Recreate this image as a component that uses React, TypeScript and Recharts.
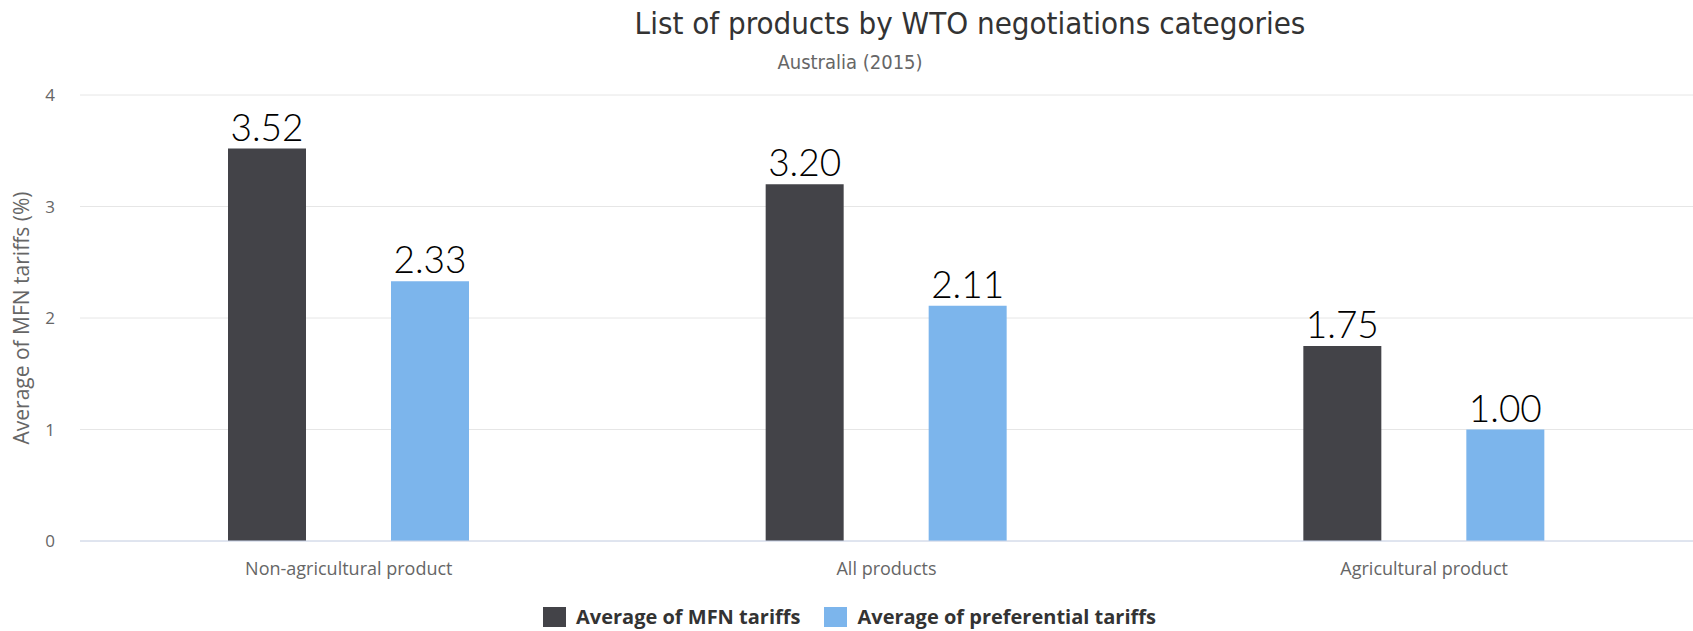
import {
  BarChart,
  Bar,
  XAxis,
  YAxis,
  CartesianGrid,
  LabelList,
} from "recharts";

const categories = ["Non-agricultural product", "All products", "Agricultural product"];
const mfnTariffs = [3.52, 3.2, 1.75];
const preferentialTariffs = [2.33, 2.11, 1.0];
const yTicks = [0, 1, 2, 3, 4];
// band edges for the little separator ticks under the x axis
const bandEdges = [0, 1, 2, 3];

const MFN_COLOR = "#434348";
const PREF_COLOR = "#7cb5ec";
const FONT = "'Open Sans', 'DejaVu Sans', sans-serif";
const NARROW = "'Liberation Sans Narrow', 'DejaVu Sans Condensed', sans-serif";

const data = categories.map((name, i) => ({
  name,
  mfn: mfnTariffs[i],
  pref: preferentialTariffs[i],
}));

const legendItems = [
  { label: "Average of MFN tariffs", color: MFN_COLOR },
  { label: "Average of preferential tariffs", color: PREF_COLOR },
];

const fmt = (v: number) => v.toFixed(2);

export default function App() {
  return (
    <div style={{ position: "absolute", left: 0, top: 0, width: 1693, height: 631, background: "#fff", fontFamily: FONT }}>
      <div
        style={{
          position: "absolute",
          left: 970 - 500,
          width: 1000,
          top: 5,
          textAlign: "center",
          fontSize: 31,
          color: "#333",
          fontFamily: NARROW,
        }}
      >
        List of products by WTO negotiations categories
      </div>
      <div
        style={{
          position: "absolute",
          left: 850 - 200,
          width: 400,
          top: 50,
          textAlign: "center",
          fontSize: 20,
          color: "#666",
          fontFamily: NARROW,
        }}
      >
        Australia (2015)
      </div>
      <div
        style={{
          position: "absolute",
          left: 21,
          top: 318,
          transform: "translate(-50%, -50%) rotate(-90deg)",
          whiteSpace: "nowrap",
          fontSize: 21,
          color: "#666",
        }}
      >
        Average of MFN tariffs (%)
      </div>

      <BarChart
        width={1693}
        height={631}
        data={data}
        margin={{ top: 95, right: 0, bottom: 60, left: 0 }}
        barSize={78}
        barGap={85}
      >
        <CartesianGrid xAxisId="cat" vertical={false} stroke="#e6e6e6" />
        <XAxis
          xAxisId="edges"
          type="number"
          domain={[0, 3]}
          ticks={bandEdges}
          height={0}
          axisLine={false}
          tick={false}
          tickSize={15}
          tickLine={{ stroke: "#ccd6eb" }}
        />
        <XAxis
          xAxisId="cat"
          dataKey="name"
          height={30}
          axisLine={{ stroke: "#ccd6eb" }}
          tickLine={false}
          tickMargin={15}
          tick={{ fill: "#666", fontSize: 18, fontFamily: FONT }}
        />
        <YAxis
          width={80}
          domain={[0, 4]}
          ticks={yTicks}
          axisLine={false}
          tickLine={false}
          tickSize={0}
          tickMargin={25}
          tick={{ fill: "#666", fontSize: 17, fontFamily: FONT }}
        />
        <Bar xAxisId="cat" dataKey="mfn" fill={MFN_COLOR} isAnimationActive={false}>
          <LabelList
            dataKey="mfn"
            position="top"
            offset={8}
            fill="#000"
            fontSize={37}
            fontWeight={300}
            fontFamily="Lato, sans-serif"
            formatter={fmt}
          />
        </Bar>
        <Bar xAxisId="cat" dataKey="pref" fill={PREF_COLOR} isAnimationActive={false}>
          <LabelList
            dataKey="pref"
            position="top"
            offset={8}
            fill="#000"
            fontSize={37}
            fontWeight={300}
            fontFamily="Lato, sans-serif"
            formatter={fmt}
          />
        </Bar>
      </BarChart>

      <div style={{ position: "absolute", top: 604, left: 543, display: "flex", alignItems: "center" }}>
        {legendItems.map((item) => (
          <div key={item.label} style={{ display: "flex", alignItems: "center", marginRight: 24 }}>
            <span style={{ width: 23, height: 20, background: item.color, marginRight: 10, display: "inline-block" }} />
            <span style={{ fontSize: 20, fontWeight: "bold", color: "#333", lineHeight: "26px" }}>{item.label}</span>
          </div>
        ))}
      </div>
    </div>
  );
}
